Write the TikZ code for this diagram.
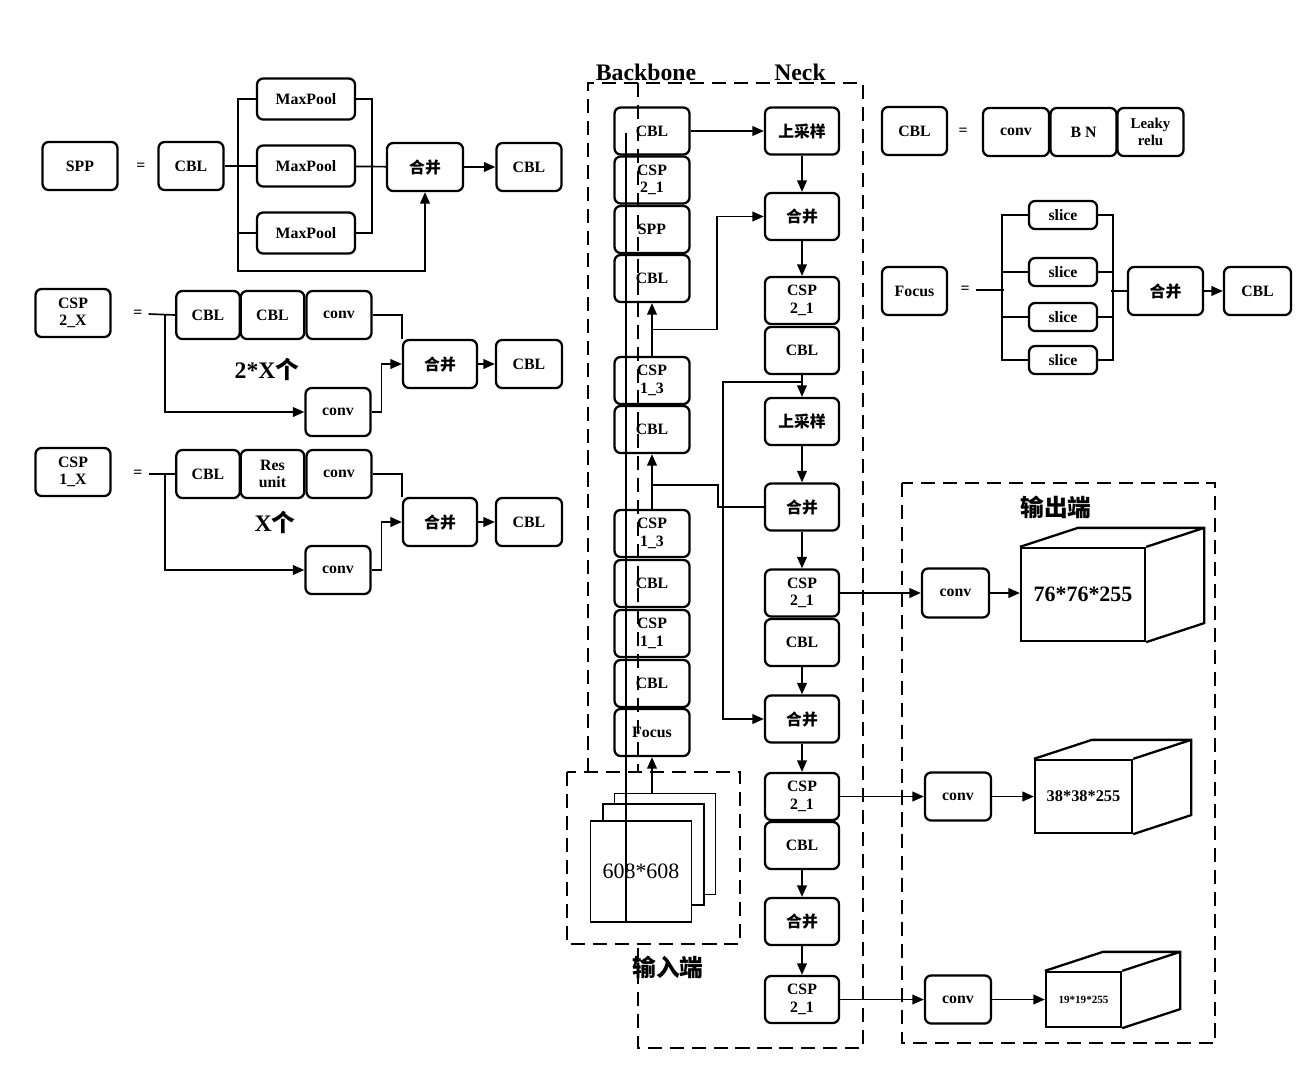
\documentclass[tikz,border=0pt]{standalone}
\usepackage{fontspec}
\setmainfont{Liberation Serif}
\newfontfamily\cjk{Noto Sans CJK SC}
\usetikzlibrary{arrows.meta}
\usetikzlibrary{calc}
\newcommand\zh[1]{{\cjk\bfseries#1}}
\newcommand\bxfont{\fontsize{9}{10}\selectfont\bfseries}
\tikzstyle{bx}=[draw,line width=1.3pt,rounded corners=3.5pt,inner sep=1pt,align=center,font=\bxfont,minimum width=1.3cm,minimum height=0.96cm]
\tikzstyle{col}=[bx,minimum width=1.5cm,minimum height=0.94cm]
\tikzstyle{eq}=[font=\bxfont]
\tikzstyle{ln}=[line width=0.95pt]
\tikzstyle{ar}=[ln,-{Triangle[length=6.5pt,width=5.5pt]}]
\tikzstyle{dsh}=[line width=1.3pt,dash pattern=on 8pt off 4.5pt]
\tikzstyle{cb}=[draw,line width=1.3pt,inner sep=0pt,font=\bfseries]
\tikzstyle{img}=[draw,line width=0.8pt,fill=white,minimum size=2.02cm,inner sep=0pt]
\tikzstyle{ttl}=[font=\fontsize{13.5}{14}\selectfont\bfseries]

\begin{document}
\begin{tikzpicture}[x=0.02cm,y=-0.02cm]
\useasboundingbox (0,0) rectangle (1312,1080);

% SPP
\node[bx,minimum width=1.5cm] (spp) at (80,166) {SPP};
\node[eq] (eq1) at (141,167) {=};
\node[bx] (sppc) at (191,166) {CBL};
\node[bx,minimum width=1.96cm,minimum height=0.82cm] (mp1) at (306,99) {MaxPool};
\node[bx,minimum width=1.96cm,minimum height=0.82cm] (mp2) at (306,166) {MaxPool};
\node[bx,minimum width=1.96cm,minimum height=0.82cm] (mp3) at (306,233) {MaxPool};
\node[bx,minimum width=1.52cm] (sppm) at (425,167) {\zh{合并}};
\node[bx] (sppo) at (529,167) {CBL};
\draw[ln] (sppc) -- (mp2);
\draw[ln] (mp1.west) -- ++(-18,0) |- (mp3.west);
\draw[ar] ($(mp3.west)+(-18,0)$) -- ++(0,38) -| (sppm.south);
\draw[ln] (mp1.east) -- ++(16,0) |- (mp3.east);
\draw[ln] (mp2) -- (sppm);
\draw[ar] (sppm) -- (sppo);

% CSP2_X
\node[bx,minimum width=1.5cm] (csp2) at (73,313) {CSP\\2\_X};
\node[eq] (eq2) at (138,314) {=};
\node[bx,minimum width=1.27cm] (c2a) at (208,315) {CBL};
\node[bx,minimum width=1.27cm] (c2b) at (272.5,315) {CBL};
\node[bx,minimum width=1.3cm] (c2c) at (339,315) {conv};
\node[bx,minimum width=1.3cm] (c2d) at (338,412) {conv};
\node[bx,minimum width=1.48cm] (c2m) at (440,364) {\zh{合并}};
\node[bx,minimum width=1.32cm] (c2o) at (529,364) {CBL};
\node[ttl] (c2n) at (267,369) {2*X\zh{个}};
\draw[ln] (eq2.east) -- (c2a.west);
\draw[ar] ($(c2a.west)+(-10,0)$) |- (c2d.west);
\draw[ln] (c2c.east) -| (c2m.north west);
\draw[ar] (c2d.east) -- ++(10,0) |- (c2m.west);
\draw[ar] (c2m) -- (c2o);

% CSP1_X
\node[bx,minimum width=1.5cm] (csp1) at (73,472) {CSP\\1\_X};
\node[eq] (eq3) at (138,474) {=};
\node[bx,minimum width=1.27cm] (c1a) at (208,474) {CBL};
\node[bx,minimum width=1.27cm] (c1b) at (272.5,474) {Res\\unit};
\node[bx,minimum width=1.3cm] (c1c) at (339,474) {conv};
\node[bx,minimum width=1.3cm] (c1d) at (338,570) {conv};
\node[bx,minimum width=1.48cm] (c1m) at (440,522) {\zh{合并}};
\node[bx,minimum width=1.32cm] (c1o) at (529,522) {CBL};
\node[ttl] (c1n) at (275,522) {X\zh{个}};
\draw[ln] (eq3.east) -- (c1a.west);
\draw[ar] ($(c1a.west)+(-10,0)$) |- (c1d.west);
\draw[ln] (c1c.east) -| (c1m.north west);
\draw[ar] (c1d.east) -- ++(10,0) |- (c1m.west);
\draw[ar] (c1m) -- (c1o);

% CBL
\node[bx] (cbl) at (914.5,131) {CBL};
\node[eq] (eq5) at (963,132) {=};
\node[bx,minimum width=1.32cm] (cv) at (1016,132) {conv};
\node[bx,minimum width=1.32cm] (bn) at (1083.5,132) {B N};
\node[bx,minimum width=1.32cm,font=\fontsize{8.5}{9.5}\selectfont\bfseries] (lr) at (1150.5,132) {Leaky\\relu};

% Focus
\node[bx] (fcs) at (914.5,291) {Focus};
\node[eq] (eq4) at (965,290) {=};
\node[bx,minimum width=1.36cm,minimum height=0.56cm] (sl1) at (1063,215) {slice};
\node[bx,minimum width=1.36cm,minimum height=0.56cm] (sl2) at (1063,272) {slice};
\node[bx,minimum width=1.36cm,minimum height=0.56cm] (sl3) at (1063,317) {slice};
\node[bx,minimum width=1.36cm,minimum height=0.56cm] (sl4) at (1063,360) {slice};
\node[bx,minimum width=1.5cm] (fm) at (1165.5,291) {\zh{合并}};
\node[bx,minimum width=1.34cm] (fo) at (1257.5,291) {CBL};
\draw[ln] (eq4.east) -- ++(28,0);
\draw[ln] (sl1.west) -- ++(-26,0) |- (sl4.west);
\draw[ln] (sl2.west) -- ++(-26,0) (sl3.west) -- ++(-26,0);
\draw[ln] (sl1.east) -- ++(15,0) |- (sl4.east);
\draw[ln] (sl2.east) -- ++(15,0) (sl3.east) -- ++(15,0);
\draw[ln] (fm.west) -- ++(-16,0);
\draw[ar] (fm) -- (fo);

% frames
\draw[dsh] (588,772) -- (588,83) -- (863,83) -- (863,1048) -- (638,1048) -- (638,944);
\draw[dsh] (567,772) rectangle (740,944);
\draw[dsh] (902,483) rectangle (1215,1043);
\draw[dsh] (638,83) -- (638,772);
\node[ttl,anchor=base] (lbb) at (646,80) {Backbone};
\node[ttl,anchor=base] (lnk) at (800,80) {Neck};
\node[ttl] (lin) at (668,967) {\zh{输入端}};
\node[ttl] (lout) at (1056,507) {\zh{输出端}};

% input
\node[img] (in3) at (665,844) {};
\node[img] (in2) at (653.5,854.5) {};
\node[img,font=\fontsize{12.5}{13}\selectfont] (in1) at (641,871.5) {608*608};
\draw[line width=0.8pt] (626,133) -- (626,922);

% backbone
\node[col] (b1) at (652,131) {CBL};
\node[col] (b2) at (652,180) {CSP\\2\_1};
\node[col] (b3) at (652,229.5) {SPP};
\node[col] (b4) at (652,278.5) {CBL};
\node[col] (b5) at (652,380.5) {CSP\\1\_3};
\node[col] (b6) at (652,429.5) {CBL};
\node[col] (b7) at (652,533.5) {CSP\\1\_3};
\node[col] (b8) at (652,583.5) {CBL};
\node[col] (b9) at (652,633.5) {CSP\\1\_1};
\node[col] (b10) at (652,683.5) {CBL};
\node[col] (b11) at (652,732.5) {Focus};

% neck
\node[col,minimum width=1.48cm] (n1) at (802,131) {\zh{上采样}};
\node[col,minimum width=1.48cm] (n2) at (802,216.5) {\zh{合并}};
\node[col,minimum width=1.48cm] (n3) at (802,300.5) {CSP\\2\_1};
\node[col,minimum width=1.48cm] (n4) at (802,350.5) {CBL};
\node[col,minimum width=1.48cm] (n5) at (802,421.5) {\zh{上采样}};
\node[col,minimum width=1.48cm] (n6) at (802,507) {\zh{合并}};
\node[col,minimum width=1.48cm] (n7) at (802,593) {CSP\\2\_1};
\node[col,minimum width=1.48cm] (n8) at (802,642.5) {CBL};
\node[col,minimum width=1.48cm] (n9) at (802,719) {\zh{合并}};
\node[col,minimum width=1.48cm] (n10) at (802,796.5) {CSP\\2\_1};
\node[col,minimum width=1.48cm] (n11) at (802,845.5) {CBL};
\node[col,minimum width=1.48cm] (n12) at (802,921.5) {\zh{合并}};
\node[col,minimum width=1.48cm] (n13) at (802,999.5) {CSP\\2\_1};

\draw[ar] (in3.north -| b11) -- (b11.south);
\draw[ar] (b7.north) -- (b6.south);
\draw[ar] (b5.north) -- (b4.south);
\draw[ar] (b1) -- (n1);
\draw[ar] ($(b5.north)!.5!(b4.south)$) -- ++(65,0) |- (n2.west);
\draw[ln] ($(b7.north)!.44!(b6.south)$) -- ++(66,0) |- (n6.west);
\draw[ar] ($(n4.south)!.33!(n5.north)$) -- ++(-79,0) |- (n9.west);
\draw[ar] (n1) -- (n2);
\draw[ar] (n2) -- (n3);
\draw[ar] (n4) -- (n5);
\draw[ar] (n5) -- (n6);
\draw[ar] (n6) -- (n7);
\draw[ar] (n8) -- (n9);
\draw[ar] (n9) -- (n10);
\draw[ar] (n11) -- (n12);
\draw[ar] (n12) -- (n13);

% output
\node[bx,minimum width=1.34cm,minimum height=0.98cm] (o1) at (955.5,593) {conv};
\node[bx,minimum width=1.32cm] (o2) at (958,796.5) {conv};
\node[bx,minimum width=1.32cm] (o3) at (958,999.5) {conv};
\node[cb,minimum width=2.48cm,minimum height=1.86cm,font=\fontsize{12.5}{13}\selectfont\bfseries] (q1) at (1083,594.5) {76*76*255};
\node[cb,minimum width=1.94cm,minimum height=1.46cm,font=\fontsize{9.3}{10}\selectfont\bfseries] (q2) at (1083.5,796.5) {38*38*255};
\node[cb,minimum width=1.5cm,minimum height=1.1cm,font=\fontsize{6.3}{7}\selectfont\bfseries] (q3) at (1083.5,999.5) {19*19*255};
\foreach \q in {q1,q2,q3}
  \draw[line width=1.3pt] (\q.north west) -- ++(58,-19) -| ($(\q.south east)+(58,-19)$) -- (\q.south east)
    (\q.north east) -- ++(58,-19);
\draw[ar] (n7) -- (o1);
\draw[ar] (n10) -- (o2);
\draw[ar] (n13) -- (o3);
\draw[ar] (o1) -- (o1 -| q1.west);
\draw[ar] (o2) -- (o2 -| q2.west);
\draw[ar] (o3) -- (o3 -| q3.west);
\end{tikzpicture}
\end{document}
